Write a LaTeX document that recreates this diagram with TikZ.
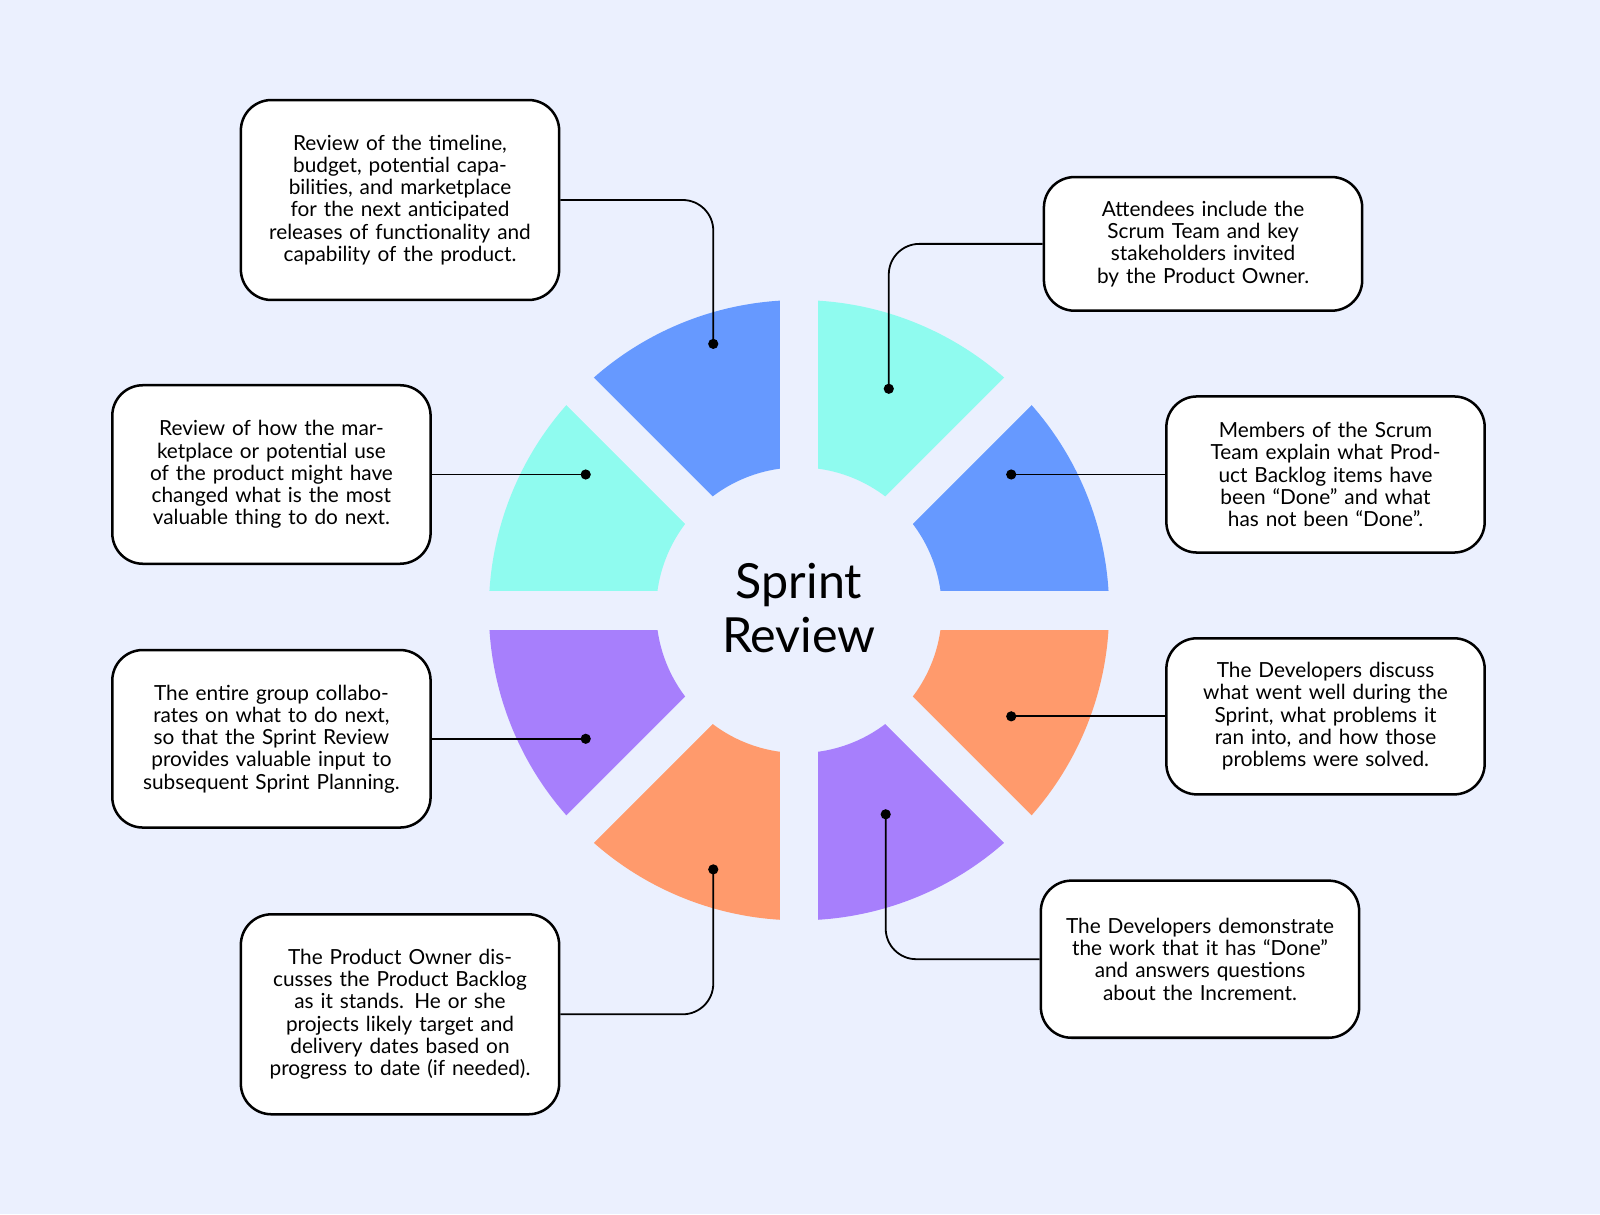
\documentclass[tikz,border=0pt]{standalone}
\usepackage{fontspec}
\setmainfont{Lato}
\usetikzlibrary{positioning}
\definecolor{bgcol}{HTML}{EBF0FE}
\definecolor{segblue}{HTML}{6699FF}
\definecolor{segcyan}{HTML}{8FFBEF}
\definecolor{segpurple}{HTML}{A77FFC}
\definecolor{segorange}{HTML}{FF9A6C}
\tikzset{
	note/.style={draw=black, line width=1.4pt, fill=white, rounded corners=0.6cm,
		minimum width=6.24cm, align=center, text width=5.3cm, font=\fontsize{11.6}{12.4}\selectfont},
	link/.style={line width=1pt, rounded corners=0.6cm},
	dot/.style={circle, fill=black, inner sep=0pt, minimum size=0.2cm}
}
\begin{document}
\begin{tikzpicture}[x=0.02cm, y=-0.02cm]
	\fill[bgcol] (0, 0) rectangle (1568, 1190);
	\useasboundingbox (0, 0) rectangle (1568, 1190);
	\begin{scope}[shift={(783, 598)}]
		\foreach \a/\c in {0/segblue, 45/segcyan, 90/segblue, 135/segcyan,
			180/segpurple, 225/segorange, 270/segpurple, 315/segorange}
			\fill[\c] (\a:6.08cm) arc[start angle=\a, end angle=\a+45, radius=6.08cm]
				-- (\a+45:2.8cm) arc[start angle=\a+45, end angle=\a, radius=2.8cm] -- cycle;
		\foreach \a in {0, 45, 90, 135}
			\draw[bgcol, line width=0.76cm] (\a:6.5cm) -- (\a+180:6.5cm);
	\end{scope}
	\node[align=center, font=\fontsize{27}{30}\selectfont] (title) at (783, 596) {Sprint\\Review};
	% notes
	\node[note, minimum height=3.92cm] (n1) at (392, 196) {Review of the timeline, budget, potential capabilities, and marketplace for the next anticipated releases of functionality and capability of the product.};
	\node[note, minimum height=2.62cm] (n2) at (1179, 239) {Attendees include the Scrum Team and key stakeholders invited by the Product Owner.};
	\node[note, minimum height=3.5cm] (n3) at (266, 465) {Review of how the marketplace or potential use of the product might have changed what is the most valuable thing to do next.};
	\node[note, minimum height=3.06cm] (n4) at (1299, 465) {Members of the Scrum Team explain what Product Backlog items have been “Done” and what has not been “Done”.};
	\node[note, minimum height=3.48cm] (n5) at (266, 724) {The entire group collaborates on what to do next, so that the Sprint Review provides valuable input to subsequent Sprint Planning.};
	\node[note, minimum height=3.06cm] (n6) at (1299, 702) {The Developers discuss what went well during the Sprint, what problems it ran into, and how those problems were solved.};
	\node[note, minimum height=3.92cm] (n7) at (392, 994) {The Product Owner discusses the Product Backlog as it stands. He or she projects likely target and delivery dates based on progress to date (if needed).};
	\node[note, minimum height=3.08cm] (n8) at (1176, 940) {The Developers demonstrate the work that it has “Done” and answers questions about the Increment.};
	% dots
	\node[dot] (d1) at (699, 337) {};
	\node[dot] (d2) at (871, 381) {};
	\node[dot] (d3) at (574, 465) {};
	\node[dot] (d4) at (991, 465) {};
	\node[dot] (d5) at (574, 724) {};
	\node[dot] (d6) at (991, 702) {};
	\node[dot] (d7) at (699, 852) {};
	\node[dot] (d8) at (868, 798) {};
	% links
	\draw[link] (n1.east) -| (d1.center);
	\draw[link] (n2.west) -| (d2.center);
	\draw[link] (n3.east) -- (d3.center);
	\draw[link] (n4.west) -- (d4.center);
	\draw[link] (n5.east) -- (d5.center);
	\draw[link] (n6.west) -- (d6.center);
	\draw[link] (n7.east) -| (d7.center);
	\draw[link] (n8.west) -| (d8.center);
\end{tikzpicture}
\end{document}
